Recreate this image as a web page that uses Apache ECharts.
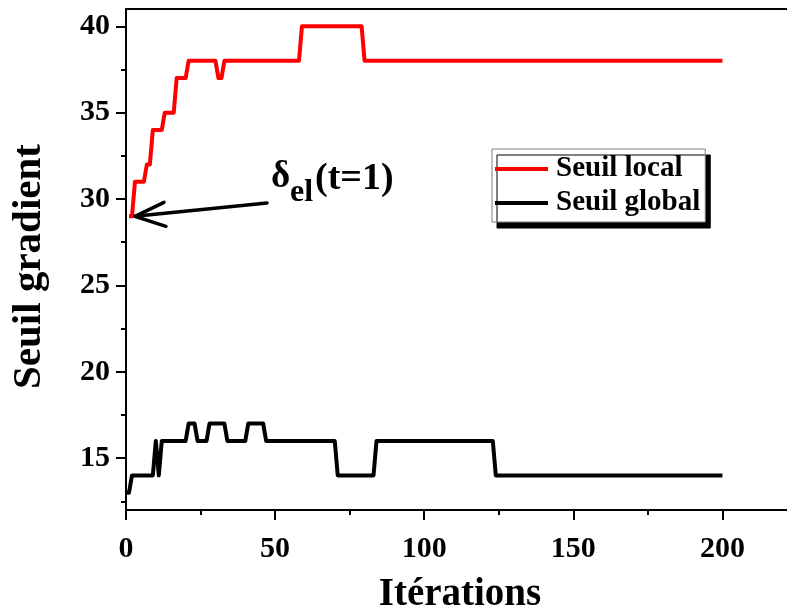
<!DOCTYPE html>
<html>
<head>
<meta charset="utf-8">
<script src="https://cdn.jsdelivr.net/npm/echarts@6/dist/echarts.min.js"></script>
<style>
  html, body { margin: 0; padding: 0; background: #fff; }
  #chart { width: 787px; height: 612px; }
</style>
</head>
<body>
<div id="chart"></div>
<script>
// Seuil local : points de rupture (itération, valeur), reliés par des segments
const localIter  = [1, 2, 3, 6, 7, 8, 9, 12, 13, 16, 17, 20, 21, 30, 31, 32, 33, 58, 59, 79, 80, 200];
const localValue = [29, 29, 31, 31, 32, 32, 34, 34, 35, 35, 37, 37, 38, 38, 37, 37, 38, 38, 40, 40, 38, 38];

// Seuil global
const globalIter  = [0, 1, 2, 9, 10, 11, 12, 20, 21, 23, 24, 27, 28, 33, 34, 40, 41, 46, 47, 70, 71, 83, 84, 123, 124, 200];
const globalValue = [13, 13, 14, 14, 16, 14, 16, 16, 17, 17, 16, 16, 17, 17, 16, 16, 17, 17, 16, 16, 14, 14, 16, 16, 14, 14];

// Graduations
const xTicks = [0, 50, 100, 150, 200];
const xMinor = [25, 75, 125, 175];
const yTicks = [15, 20, 25, 30, 35, 40];
const yMinor = [12.5, 17.5, 22.5, 27.5, 32.5, 37.5];

const seriesNames = ['Seuil local', 'Seuil global'];
const xTitle = 'Itérations';
const yTitle = 'Seuil gradient';

const FONT = 'Liberation Serif';
const X_MIN = 0, X_MAX = 224, Y_MIN = 12, Y_MAX = 41;

function zip(xs, ys) { return xs.map((x, i) => [x, ys[i]]); }

const axisLine = { show: true, onZero: false, lineStyle: { color: '#000', width: 2 } };
const tickLine = { color: '#000', width: 2 };
const labelStyle = { fontFamily: FONT, fontWeight: 'bold', fontSize: 30, color: '#000' };

const chart = echarts.init(document.getElementById('chart'), null, { renderer: 'canvas' });

chart.setOption({
  animation: false,
  backgroundColor: '#fff',
  grid: {
    left: 126, top: 9, right: -7, bottom: 102,
    containLabel: false, outerBoundsMode: 'none',
    show: false
  },
  xAxis: [
    {
      type: 'value', min: X_MIN, max: X_MAX, position: 'bottom',
      name: xTitle, nameLocation: 'middle', nameGap: 65,
      nameTextStyle: { fontFamily: FONT, fontWeight: 'bold', fontSize: 39, color: '#000' },
      axisLine: axisLine,
      axisTick: { show: true, inside: false, length: 10, lineStyle: tickLine, customValues: xTicks },
      axisLabel: Object.assign({ customValues: xTicks, margin: 24 }, labelStyle),
      splitLine: { show: false }
    },
    {
      // graduations secondaires
      type: 'value', min: X_MIN, max: X_MAX, position: 'bottom',
      axisLine: { show: false },
      axisTick: { show: true, inside: false, length: 5, lineStyle: tickLine, customValues: xMinor },
      axisLabel: { show: false },
      splitLine: { show: false }
    },
    {
      // trait du cadre en haut
      type: 'value', min: X_MIN, max: X_MAX, position: 'top',
      axisLine: axisLine,
      axisTick: { show: false },
      axisLabel: { show: false },
      splitLine: { show: false }
    }
  ],
  yAxis: [
    {
      type: 'value', min: Y_MIN, max: Y_MAX, position: 'left',
      name: yTitle, nameLocation: 'middle', nameGap: 76,
      nameTextStyle: {
        fontFamily: FONT, fontWeight: 'bold', fontSize: 41, color: '#000',
        padding: [0, 14, 0, 0]
      },
      axisLine: axisLine,
      axisTick: { show: true, inside: false, length: 10, lineStyle: tickLine, customValues: yTicks },
      axisLabel: Object.assign({ customValues: yTicks, margin: 16 }, labelStyle),
      splitLine: { show: false }
    },
    {
      // graduations secondaires
      type: 'value', min: Y_MIN, max: Y_MAX, position: 'left',
      axisLine: { show: false },
      axisTick: { show: true, inside: false, length: 5, lineStyle: tickLine, customValues: yMinor },
      axisLabel: { show: false },
      splitLine: { show: false }
    }
  ],
  legend: {
    orient: 'vertical',
    left: 492, top: 149,
    padding: [3, 5, 2, 3],
    itemGap: 0,
    itemWidth: 53, itemHeight: 4,
    icon: 'rect',
    backgroundColor: '#fff',
    borderColor: '#808080', borderWidth: 1,
    shadowColor: '#000', shadowBlur: 0, shadowOffsetX: 5, shadowOffsetY: 6,
    textStyle: {
      fontFamily: FONT, fontWeight: 'bold', fontSize: 29, color: '#000',
      lineHeight: 34, padding: [0, 0, 0, 3]
    },
    data: seriesNames
  },
  series: [
    {
      name: seriesNames[0], type: 'line', xAxisIndex: 0, yAxisIndex: 0,
      data: zip(localIter, localValue),
      showSymbol: false, symbol: 'none',
      lineStyle: { color: '#ff0000', width: 4, join: 'round' },
      itemStyle: { color: '#ff0000' }
    },
    {
      name: seriesNames[1], type: 'line', xAxisIndex: 0, yAxisIndex: 0,
      data: zip(globalIter, globalValue),
      showSymbol: false, symbol: 'none',
      lineStyle: { color: '#000', width: 4, join: 'round' },
      itemStyle: { color: '#000' }
    }
  ]
});

// Flèche et étiquette désignant la première valeur du seuil local
const p0 = chart.convertToPixel({ seriesIndex: 0 }, [localIter[0], localValue[0]]);
const tip = [p0[0] + 6, p0[1]];
const tail = [267, 203];
const arrowStyle = { stroke: '#000', lineWidth: 3.5, fill: null, lineCap: 'round', lineJoin: 'round' };

chart.setOption({
  graphic: [
    { type: 'polyline', shape: { points: [tip, tail] }, style: arrowStyle, z: 100 },
    { type: 'polyline', shape: { points: [[tip[0] + 29, tip[1] - 14], tip, [tip[0] + 31, tip[1] + 10]] }, style: arrowStyle, z: 100 },
    { type: 'text', x: 271, y: 177, style: { text: 'δ', font: 'bold 37px "' + FONT + '"', fill: '#000', verticalAlign: 'middle' }, z: 100 },
    { type: 'text', x: 290, y: 192.5, style: { text: 'el', font: 'bold 32px "' + FONT + '"', fill: '#000', verticalAlign: 'middle' }, z: 100 },
    { type: 'text', x: 315, y: 179.5, style: { text: '(t=1)', font: 'bold 38px "' + FONT + '"', fill: '#000', verticalAlign: 'middle' }, z: 100 }
  ]
});
</script>
</body>
</html>
